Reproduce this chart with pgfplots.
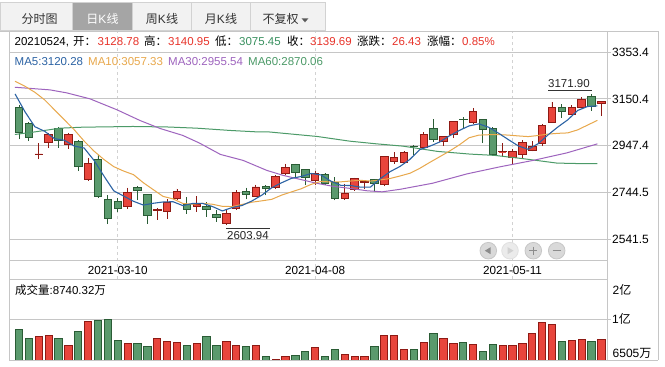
\documentclass[border=0pt]{standalone}
\usepackage{fontspec}
\setmainfont{Liberation Sans}
\newfontfamily\cjk{Noto Sans CJK SC}
\usepackage{pgfplots}
\usepackage{pgfplotstable}
\pgfplotsset{compat=1.18}
\usepgfplotslibrary{statistics}

\definecolor{kred}{HTML}{E8453C}
\definecolor{kredd}{HTML}{8E1A14}
\definecolor{kgrn}{HTML}{5A9A6D}
\definecolor{kgrnd}{HTML}{2A5C35}
\definecolor{mafive}{HTML}{2C63A4}
\definecolor{maten}{HTML}{E8A84C}
\definecolor{mathirty}{HTML}{9E64BE}
\definecolor{masixty}{HTML}{4C9A68}
\definecolor{txtred}{HTML}{E8332A}
\definecolor{txtgrn}{HTML}{3A9160}
\definecolor{gridc}{HTML}{C6C6C6}
\definecolor{dashc}{HTML}{D2D2D2}
\definecolor{tabf}{HTML}{F2F2F2}
\definecolor{tabb}{HTML}{D2D2D2}
\definecolor{tabsel}{HTML}{A5A5A5}
\definecolor{btn}{HTML}{D9D9D9}

\newcommand{\C}[1]{{\cjk #1}}

\pgfplotstableread{
i O H L C V
0 3111.6 3124.5 2974.8 3006.5 9379
1 3042.4 3049.6 2967.6 2982.0 8785
2 2911.4 2958.9 2888.4 2912.0 8913
3 2960.4 3003.6 2935.9 2995.0 8977
4 3020.8 3028.0 2938.8 2969.0 8785
5 2954.6 3003.6 2934.5 2997.8 8337
6 2964.7 2970.5 2838.0 2856.7 9232
7 2800.6 2895.6 2798.0 2869.7 9872
8 2887.0 2905.7 2725.0 2727.2 9936
9 2714.2 2732.9 2607.7 2632.1 10000
10 2707.0 2722.8 2660.9 2675.3 8657
11 2683.9 2766.0 2675.3 2744.4 8465
12 2766.0 2771.8 2711.3 2756.0 8465
13 2735.8 2737.0 2610.5 2645.1 8273
14 2669.6 2678.2 2627.8 2670.5 8785
15 2662.4 2715.6 2632.1 2704.1 8593
16 2718.5 2761.7 2715.6 2750.2 8529
17 2692.6 2725.7 2653.7 2671.0 8337
18 2683.9 2728.6 2660.9 2692.6 8465
19 2683.9 2704.1 2639.3 2671.0 8913
20 2649.4 2668.1 2617.7 2636.5 8337
21 2610.5 2668.1 2603.94 2655.2 8593
22 2675.3 2754.5 2672.4 2744.4 8337
23 2750.2 2766.0 2715.6 2737.2 8273
24 2730.0 2779.0 2728.0 2768.9 8337
25 2770.3 2776.1 2732.9 2761.7 7634
26 2766.0 2819.3 2764.0 2815.0 7416
27 2829.4 2869.7 2819.3 2852.4 7634
28 2865.4 2869.7 2812.1 2833.7 7698
29 2843.8 2845.0 2776.1 2809.2 7953
30 2796.3 2836.6 2776.1 2826.5 8209
31 2822.2 2829.4 2776.1 2783.3 7634
32 2790.5 2812.1 2711.3 2718.5 8100
33 2718.5 2783.3 2717.0 2743.0 7781
34 2757.4 2809.2 2756.0 2804.9 7653
35 2790.5 2792.0 2761.7 2791.5 7653
36 2800.6 2801.0 2747.3 2783.3 8292
37 2779.0 2902.0 2771.8 2901.4 8977
38 2881.2 2920.1 2869.7 2895.6 8977
39 2874.0 2922.9 2872.0 2917.2 8100
40 2945.0 2951.7 2905.7 2944.5 8100
41 2941.6 3006.5 2940.0 2995.0 8548
42 3020.8 3061.2 2963.3 2973.3 9104
43 2964.7 2987.0 2946.0 2986.3 8785
44 2995.0 3052.0 2980.5 3051.1 8465
45 3062.0 3071.2 3020.8 3061.2 8529
46 3046.8 3111.6 3045.0 3095.7 8401
47 3059.7 3060.5 2958.9 3016.5 7953
48 3023.7 3028.0 2905.7 2911.4 8401
49 2921.5 2958.9 2898.5 2922.5 8337
50 2898.5 2934.5 2869.7 2921.5 8337
51 2911.4 2970.5 2891.3 2960.4 8465
52 2927.3 2966.1 2922.9 2944.5 9104
53 2956.1 3042.4 2944.5 3033.8 9808
54 3049.6 3136.0 3048.0 3111.6 9680
55 3111.6 3127.4 3068.4 3094.3 8593
56 3084.2 3124.5 3083.0 3114.4 8657
57 3114.4 3157.6 3113.0 3147.5 8721
58 3161.9 3171.9 3098.6 3118.7 8593
59 3128.78 3140.95 3075.45 3139.69 8740.32
}\kdata

\pgfplotsset{
  upk/.style={draw=kredd, fill=kred, line width=0.8pt,
    boxplot/every box/.style={draw=kredd, fill=kred},
    boxplot/every whisker/.style={draw=kredd},
    boxplot/every median/.style={draw=kredd}},
  dnk/.style={draw=kgrnd, fill=kgrn, line width=0.8pt,
    boxplot/every box/.style={draw=kgrnd, fill=kgrn},
    boxplot/every whisker/.style={draw=kgrnd},
    boxplot/every median/.style={draw=kgrnd}},
}

\begin{document}
\fontsize{11.5}{13}\selectfont
\begin{tikzpicture}
\path[use as bounding box] (0pt,0pt) rectangle (665pt,367pt);
\fill[white] (0pt,0pt) rectangle (665pt,367pt);

% ---------------- price pane ----------------
\begin{axis}[
  at={(9.3pt,88pt)}, anchor=south west, scale only axis,
  width=597.7pt, height=247.5pt,
  xmin=-0.983, xmax=59.574, ymin=2370.5, ymax=3442.2,
  axis line style={draw=none}, major tick length=0pt,
  scaled ticks=false,
  xtick={10,30,50}, xticklabels={2021-03-10,2021-04-08,2021-05-11},
  xticklabel style={anchor=center, inner sep=0pt, yshift=9pt, font=\fontsize{11.7}{13}\selectfont},
  xmajorgrids, x grid style={draw=dashc, dash pattern=on 3pt off 3pt, line width=0.7pt},
  ytick={2541.5,2744.5,2947.4,3150.4,3353.4},
  yticklabels={2541.5,2744.5,2947.4,3150.4,3353.4},
  yticklabel pos=right,
  yticklabel style={anchor=west, inner sep=0pt, xshift=5pt, font=\fontsize{12}{14}\selectfont},
  ymajorgrids, y grid style={draw=gridc, line width=0.8pt},
  boxplot/draw direction=y, boxplot/box extend=0.76, boxplot/whisker extend=0,
]
\pgfplotsinvokeforeach{0,...,59}{
  \pgfplotstablegetelem{#1}{O}\of\kdata \let\vo\pgfplotsretval
  \pgfplotstablegetelem{#1}{C}\of\kdata \let\vc\pgfplotsretval
  \pgfplotstablegetelem{#1}{H}\of\kdata \let\vh\pgfplotsretval
  \pgfplotstablegetelem{#1}{L}\of\kdata \let\vl\pgfplotsretval
  \ifdim\vc pt<\vo pt
    \edef\doplot{\noexpand\addplot[dnk, boxplot prepared={draw position=#1,
      lower whisker=\vl, upper whisker=\vh, lower quartile=\vc, upper quartile=\vo, median=\vo}]
      coordinates {};}%
  \else
    \edef\doplot{\noexpand\addplot[upk, boxplot prepared={draw position=#1,
      lower whisker=\vl, upper whisker=\vh, lower quartile=\vo, upper quartile=\vc, median=\vc}]
      coordinates {};}%
  \fi
  \doplot
}
% MA60
\addplot[masixty, line width=1pt, mark=none, sharp plot] coordinates {
(-0.41,2996.4) (1.42,3006.3) (4.15,3023.6) (6.48,3027.9) (11.55,3030.9) (15.0,3028.8)
(18.0,3023.6) (21.4,3013.7) (23.9,3008.0) (25.4,3007.0) (30.2,2987.7) (33.5,2967.4)
(36.1,2956.2) (38.9,2945.8) (42.4,2923.0) (45.7,2911.3) (48.2,2905.7) (51.1,2891.4)
(54.5,2872.4) (56.5,2870.5) (58.6,2870.06)};
% MA30
\addplot[mathirty, line width=1pt, mark=none, sharp plot] coordinates {
(-0.41,3200.7) (3.14,3189.4) (4.83,3176.5) (7.19,3150.6) (9.93,3103.1) (12.26,3056.8)
(14.29,3022.3) (16.6,2992.1) (18.3,2958.8) (20.4,2910.0) (22.7,2884.1) (25.1,2840.9)
(26.75,2819.3) (28.47,2802.0) (30.2,2784.7) (31.8,2771.8) (33.5,2763.1) (35.3,2752.3)
(36.8,2748.0) (38.6,2758.8) (41.9,2785.1) (45.4,2825.8) (48.7,2856.0) (52.1,2884.1)
(55.5,2916.5) (58.6,2955.54)};
% MA10
\addplot[maten, line width=1pt, mark=none, sharp plot] coordinates {
(-0.4,3226.7) (0.6,3205.1) (1.6,3179.2) (2.6,3146.1) (3.6,3102.9) (4.6,3059.7)
(5.6,3016.5) (6.6,2967.6) (7.6,2924.4) (8.6,2888.0) (9.6,2857.0) (10.6,2837.9)
(11.6,2822.3) (12.6,2787.3) (13.6,2757.5) (14.6,2728.1) (15.6,2717.5) (16.6,2697.6)
(17.6,2694.1) (18.6,2698.0) (19.6,2694.1) (20.6,2685.2) (21.6,2684.1) (22.6,2693.3)
(23.6,2703.1) (24.6,2708.9) (25.6,2715.4) (26.6,2733.5) (27.6,2747.6) (28.6,2761.4)
(29.6,2780.4) (30.6,2793.2) (31.6,2790.6) (32.6,2791.2) (33.6,2794.8) (34.6,2797.8)
(35.6,2794.6) (36.6,2799.5) (37.6,2805.7) (38.6,2816.5) (39.6,2828.3) (40.6,2849.5)
(41.6,2875.0) (42.6,2899.3) (43.6,2923.9) (44.6,2950.9) (45.6,2982.1) (46.6,2993.6)
(47.6,2995.2) (48.6,2995.8) (49.6,2993.5) (50.6,2990.0) (51.6,2987.1) (52.6,2991.9)
(53.6,2997.9) (54.6,3001.2) (55.6,3003.1) (56.6,3016.2) (57.6,3036.9) (58.6,3057.33)};
% MA5
\addplot[mafive, line width=1.1pt, mark=none, sharp plot] coordinates {
(-0.4,3172.0) (0.6,3095.0) (1.6,3030.0) (2.6,3010.0) (3.6,2978.0) (4.6,2971.2)
(5.6,2946.1) (6.6,2937.6) (7.6,2884.1) (8.6,2816.7) (9.6,2752.2) (10.6,2729.7)
(11.6,2707.0) (12.6,2690.6) (13.6,2698.3) (14.6,2704.0) (15.6,2705.2) (16.6,2688.2)
(17.6,2697.7) (18.6,2697.8) (19.6,2684.3) (20.6,2665.3) (21.6,2679.9) (22.6,2688.9)
(23.6,2708.4) (24.6,2733.5) (25.6,2765.4) (26.6,2787.0) (27.6,2806.3) (28.6,2814.4)
(29.6,2827.4) (30.6,2821.0) (31.6,2794.2) (32.6,2776.1) (33.6,2775.2) (34.6,2768.2)
(35.6,2768.2) (36.6,2804.8) (37.6,2835.3) (38.6,2857.8) (39.6,2888.4) (40.6,2930.7)
(41.6,2945.1) (42.6,2963.3) (43.6,2990.0) (44.6,3013.4) (45.6,3033.5) (46.6,3042.2)
(47.6,3027.2) (48.6,3001.5) (49.6,2973.5) (50.6,2946.5) (51.6,2932.1) (52.6,2956.5)
(53.6,2994.4) (54.6,3028.9) (55.6,3059.7) (56.6,3100.3) (57.6,3117.3) (58.6,3120.28)};
\end{axis}

% ---------------- volume pane ----------------
\begin{axis}[
  at={(9.3pt,7pt)}, anchor=south west, scale only axis,
  width=597.7pt, height=81pt,
  xmin=-0.983, xmax=59.574, ymin=7397.2, ymax=12577.2,
  axis line style={draw=none}, major tick length=0pt,
  scaled ticks=false,
  xtick=\empty,
  ytick={10000}, yticklabels={1\C{亿}},
  yticklabel pos=right,
  yticklabel style={anchor=west, inner sep=0pt, xshift=5pt, font=\fontsize{12}{14}\selectfont},
  ymajorgrids, y grid style={draw=gridc, line width=0.8pt},
]
\pgfplotsinvokeforeach{0,...,59}{
  \pgfplotstablegetelem{#1}{O}\of\kdata \let\vo\pgfplotsretval
  \pgfplotstablegetelem{#1}{C}\of\kdata \let\vc\pgfplotsretval
  \pgfplotstablegetelem{#1}{V}\of\kdata \let\vv\pgfplotsretval
  \ifdim\vc pt<\vo pt
    \edef\doplot{\noexpand\addplot[ybar, bar width=0.74, bar shift=0pt, draw=kgrnd, fill=kgrn, line width=0.8pt] coordinates {(#1,\vv)};}%
  \else
    \edef\doplot{\noexpand\addplot[ybar, bar width=0.74, bar shift=0pt, draw=kredd, fill=kred, line width=0.8pt] coordinates {(#1,\vv)};}%
  \fi
  \doplot
}
\end{axis}

% ---------------- frame, tabs, texts ----------------
\begin{scope}[x=1pt, y=-1pt, shift={(0pt,367pt)}]
  % tabs
  \foreach \a/\b in {0/72.7, 132.3/191.7, 191.7/250.7, 250.7/325} {
    \draw[tabb, fill=tabf, line width=0.8pt] (\a,2.7) rectangle (\b,30.7);
  }
  \draw[tabb, fill=tabsel, line width=0.8pt] (72.7,2.7) rectangle (132.3,30.7);
  \node[anchor=base, inner sep=0pt, text=black!80] at (39.7,23.8) {\fontsize{12}{14}\selectfont\C{分时图}};
  \node[anchor=base, inner sep=0pt, text=white] at (102.5,23.8) {\fontsize{12}{14}\selectfont\C{日}K\C{线}};
  \node[anchor=base, inner sep=0pt, text=black!80] at (162,23.8) {\fontsize{12}{14}\selectfont\C{周}K\C{线}};
  \node[anchor=base, inner sep=0pt, text=black!80] at (221,23.8) {\fontsize{12}{14}\selectfont\C{月}K\C{线}};
  \node[anchor=base, inner sep=0pt, text=black!80] at (280.7,23.8) {\fontsize{12}{14}\selectfont\C{不复权}};
  \fill[black!65] (301.7,18.5) -- (308.3,18.5) -- (305,22.3) -- cycle;

  % frame lines
  \draw[gridc, line width=0.8pt] (0,31.5) -- (658.3,31.5);
  \draw[gridc, line width=0.8pt] (9.3,31.5) -- (9.3,360.5);
  \draw[gridc, line width=0.8pt] (607,31.5) -- (607,360.5);
  \draw[gridc, line width=0.8pt] (658.3,31.5) -- (658.3,360.5);
  \draw[gridc, line width=0.8pt] (9.3,360.5) -- (658.3,360.5);
  \draw[gridc, line width=0.8pt] (9.3,260) -- (607,260);
  \draw[gridc, line width=0.8pt] (9.3,279.3) -- (607,279.3);
  \foreach \yy in {52.0,98.9,145.8,192.6,239.5,319.3} {
    \draw[gridc, line width=0.8pt] (607,\yy) -- (611,\yy);
  }

  % info line 1
  \node[anchor=base west, inner sep=0pt] at (14.5,45.8) {20210524,};
  \node[anchor=base west, inner sep=0pt] at (73,45.8) {\C{开：}};
  \node[anchor=base west, inner sep=0pt, text=txtred] at (97.5,45.8) {3128.78};
  \node[anchor=base west, inner sep=0pt] at (144,45.8) {\C{高：}};
  \node[anchor=base west, inner sep=0pt, text=txtred] at (168,45.8) {3140.95};
  \node[anchor=base west, inner sep=0pt] at (215,45.8) {\C{低：}};
  \node[anchor=base west, inner sep=0pt, text=txtgrn] at (239,45.8) {3075.45};
  \node[anchor=base west, inner sep=0pt] at (287,45.8) {\C{收：}};
  \node[anchor=base west, inner sep=0pt, text=txtred] at (310,45.8) {3139.69};
  \node[anchor=base west, inner sep=0pt] at (357,45.8) {\C{涨跌：}};
  \node[anchor=base west, inner sep=0pt, text=txtred] at (392,45.8) {26.43};
  \node[anchor=base west, inner sep=0pt] at (427,45.8) {\C{涨幅：}};
  \node[anchor=base west, inner sep=0pt, text=txtred] at (462,45.8) {0.85\%};

  % MA line
  \node[anchor=base west, inner sep=0pt, text=mafive] at (14.5,65.1) {MA5:3120.28};
  \node[anchor=base west, inner sep=0pt, text=maten] at (88,65.1) {MA10:3057.33};
  \node[anchor=base west, inner sep=0pt, text=mathirty] at (168,65.1) {MA30:2955.54};
  \node[anchor=base west, inner sep=0pt, text=masixty] at (248,65.1) {MA60:2870.06};

  % annotations
  \draw[black!80, line width=0.7pt] (548,90) -- (591.5,90);
  \node[anchor=base west, inner sep=0pt, text=black!85] at (548,87.4) {3171.90};
  \draw[black!80, line width=0.7pt] (226.3,228.3) -- (270,228.3);
  \node[anchor=base west, inner sep=0pt, text=black!85] at (227,239.1) {2603.94};

  % volume labels
  \node[anchor=base west, inner sep=0pt] at (15,294.1) {\C{成交量}:8740.32\C{万}};
  \node[anchor=base west, inner sep=0pt] at (612.5,294.3) {\fontsize{12}{14}\selectfont 2\C{亿}};
  \node[anchor=base west, inner sep=0pt] at (612.5,357.3) {\fontsize{12}{14}\selectfont 6505\C{万}};

  % zoom buttons
  \foreach \bx in {488.3,533.3,556.7} {
    \draw[black!22, fill=btn, line width=0.8pt] (\bx,250.7) circle (8.3);
  }
  \draw[black!12, fill=black!8, line width=0.8pt] (510,250.7) circle (8.3);
  \fill[black!45] (484.8,250.7) -- (490.6,247.2) -- (490.6,254.2) -- cycle;
  \fill[black!18] (513.5,250.7) -- (507.7,247.2) -- (507.7,254.2) -- cycle;
  \draw[black!45, line width=1.6pt] (529.3,250.7) -- (537.3,250.7) (533.3,246.7) -- (533.3,254.7);
  \draw[black!45, line width=1.6pt] (552.7,250.7) -- (560.7,250.7);
\end{scope}
\end{tikzpicture}
\end{document}
